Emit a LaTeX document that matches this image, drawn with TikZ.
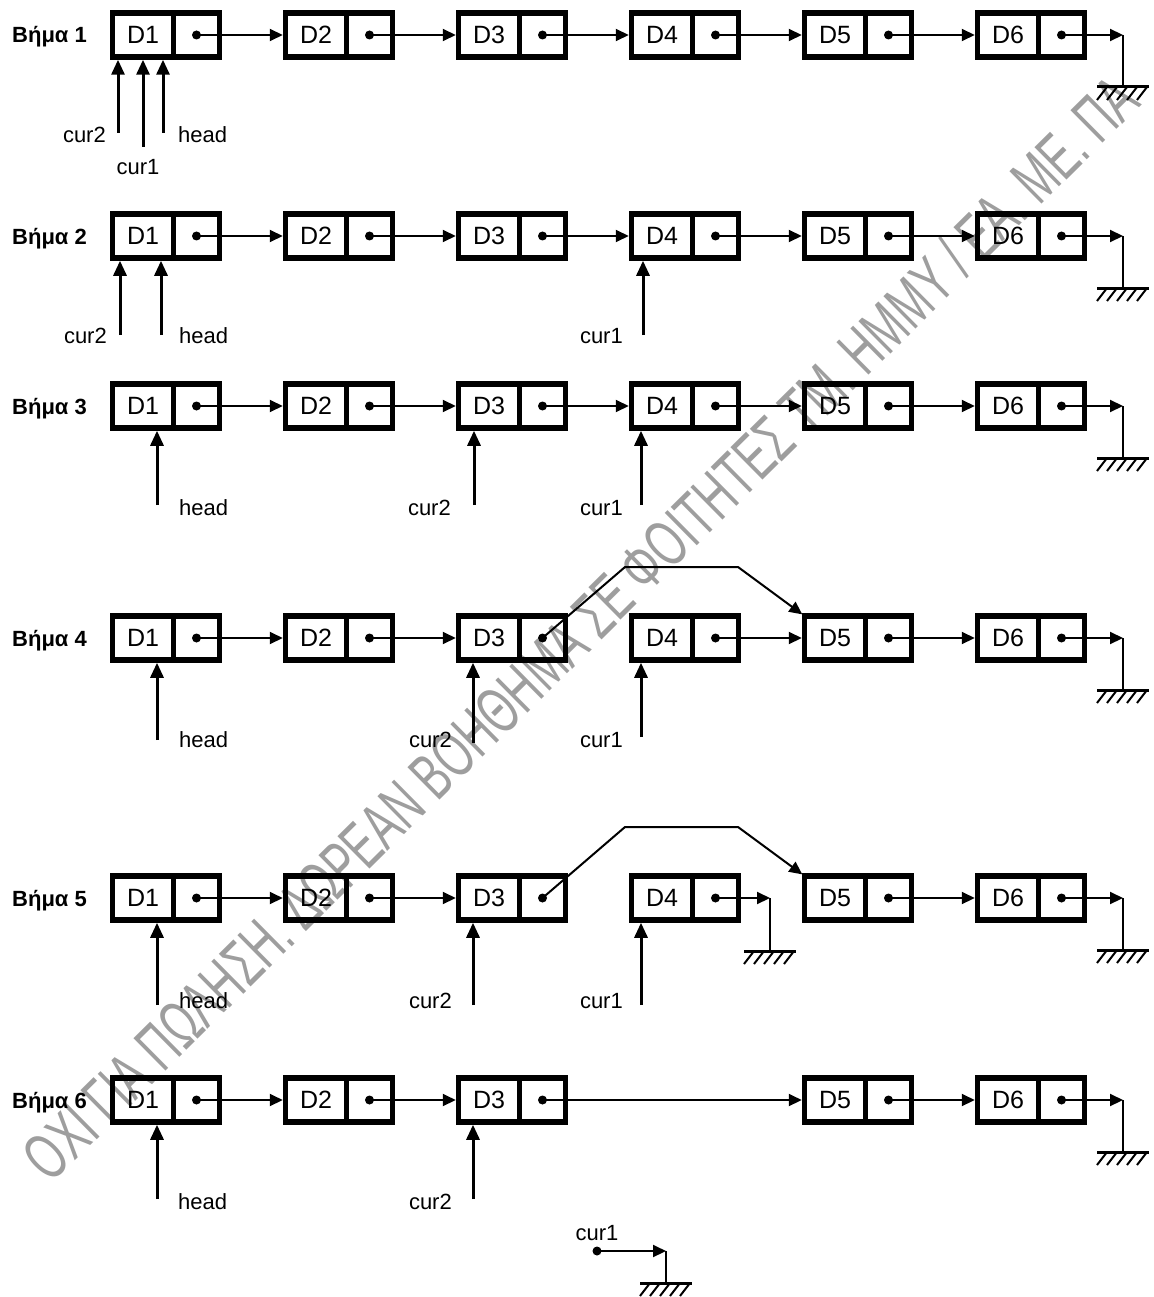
\documentclass[tikz,border=0pt]{standalone}
\usepackage{fontspec}
\setmainfont{Liberation Sans}
\usetikzlibrary{arrows.meta}
\newcommand\mkrow[3]{%
  \node[steplbl] (s#1) at (12,#2+8) {Βήμα #1};
  \foreach \i in {#3}{%
    \node[dcell] (d#1\i) at ({143+173*(\i-1)},#2) {D\i};
    \node[pcell] (p#1\i) at (d#1\i.east) {};
    \fill (p#1\i.center) circle (4.5pt);
  }%
  \coordinate (t#1) at (1123,#2);
  \draw[tlink] (p#16.center) -- (t#1);
  \draw[gline] (t#1) -- ++(0,52) pic {ground};
}
\begin{document}
\begin{tikzpicture}[x=1pt,y=-1pt,
  dcell/.style={draw,line width=5.5pt,minimum width=61pt,minimum height=44pt,inner sep=0pt,outer sep=0pt,font=\fontsize{25}{25}\selectfont},
  pcell/.style={draw,line width=5.5pt,minimum width=46pt,minimum height=44pt,inner sep=0pt,outer sep=0pt,anchor=west},
  link/.style={line width=2pt,-{Triangle[length=13pt,width=12pt]},shorten >=2.75pt},
  tlink/.style={link,shorten >=0pt},
  ptr/.style={line width=3pt,-{Triangle[length=15pt,width=13pt]},shorten >=2.75pt},
  lbl/.style={font=\fontsize{22}{22}\selectfont,inner sep=0pt},
  steplbl/.style={font=\bfseries\fontsize{22}{22}\selectfont,inner sep=0pt,anchor=base west},
  gline/.style={line width=2.5pt},
  ground/.pic={
    \draw[line width=3pt] (-26,0) -- (26,0);
    \foreach \k in {-16,-6,4,14,24} \draw[line width=2pt] (\k,0) -- (\k-10,13);
  }
]
\useasboundingbox (0,0) rectangle (1153,1297);
\fill[white] (0,0) rectangle (1153,1297);

% watermark
\node[rotate=44.7, text=black!38, inner sep=0pt] (wm) at (580,628)
  {\resizebox{1535pt}{48pt}{ΟΧΙ ΓΙΑ ΠΩΛΗΣΗ. ΔΩΡΕΑΝ ΒΟΗΘΗΜΑ ΣΕ ΦΟΙΤΗΤΕΣ ΤΜ. ΗΜΜΥ / ΕΑ. ΜΕ. ΠΑ}};

% rows
\mkrow{1}{35}{1,...,6}
\mkrow{2}{236}{1,...,6}
\mkrow{3}{406}{1,...,6}
\mkrow{4}{638}{1,...,6}
\mkrow{5}{898}{1,...,6}
\mkrow{6}{1100}{1,2,3,5,6}

% links rows 1-3
\foreach \r in {1,2,3}{
  \foreach \i [evaluate=\i as \j using int(\i+1)] in {1,...,5}
    \draw[link] (p\r\i.center) -- (d\r\j.west);
}
% row 4
\draw[link] (p41.center) -- (d42.west);
\draw[link] (p42.center) -- (d43.west);
\draw[link] (p44.center) -- (d45.west);
\draw[link] (p45.center) -- (d46.west);
\draw[link] (p43.center) -- (625,567) -- (738,567) -- (d45.north west);
% row 5
\draw[link] (p51.center) -- (d52.west);
\draw[link] (p52.center) -- (d53.west);
\draw[link] (p55.center) -- (d56.west);
\draw[link] (p53.center) -- (625,827) -- (738,827) -- (d55.north west);
\coordinate (t54) at (770,898);
\draw[tlink] (p54.center) -- (t54);
\draw[gline] (t54) -- ++(0,53) pic {ground};
% row 6
\draw[link] (p61.center) -- (d62.west);
\draw[link] (p62.center) -- (d63.west);
\draw[link] (p63.center) -- (d65.west);
\draw[link] (p65.center) -- (d66.west);

% pointers row 1
\coordinate (a1) at (118,133); \draw[ptr] (a1) -- (a1 |- d11.south);
\coordinate (b1) at (143,147); \draw[ptr] (b1) -- (b1 |- d11.south);
\coordinate (h1) at (163,133); \draw[ptr] (h1) -- (h1 |- d11.south);
\node[lbl,anchor=base east] (la1) at (106,143) {cur2};
\node[lbl,anchor=base] (lb1) at (138,175) {cur1};
\node[lbl,anchor=base west] (lh1) at (178,143) {head};
% row 2
\coordinate (a2) at (120,335); \draw[ptr] (a2) -- (a2 |- d21.south);
\coordinate (h2) at (161,335); \draw[ptr] (h2) -- (h2 |- d21.south);
\coordinate (b2) at (643,335); \draw[ptr] (b2) -- (b2 |- d24.south);
\node[lbl,anchor=base east] (la2) at (107,343) {cur2};
\node[lbl,anchor=base west] (lh2) at (179,343) {head};
\node[lbl,anchor=base east] (lb2) at (623,343) {cur1};
% row 3
\coordinate (h3) at (157,505); \draw[ptr] (h3) -- (h3 |- d31.south);
\coordinate (a3) at (474,505); \draw[ptr] (a3) -- (a3 |- d33.south);
\coordinate (b3) at (641,505); \draw[ptr] (b3) -- (b3 |- d34.south);
\node[lbl,anchor=base west] (lh3) at (179,515) {head};
\node[lbl,anchor=base east] (la3) at (451,515) {cur2};
\node[lbl,anchor=base east] (lb3) at (623,515) {cur1};
% row 4
\coordinate (h4) at (157,740); \draw[ptr] (h4) -- (h4 |- d41.south);
\coordinate (a4) at (473,743); \draw[ptr] (a4) -- (a4 |- d43.south);
\coordinate (b4) at (641,737); \draw[ptr] (b4) -- (b4 |- d44.south);
\node[lbl,anchor=base west] (lh4) at (179,747) {head};
\node[lbl,anchor=base east] (la4) at (452,747) {cur2};
\node[lbl,anchor=base east] (lb4) at (623,747) {cur1};
% row 5
\coordinate (h5) at (157,1005); \draw[ptr] (h5) -- (h5 |- d51.south);
\coordinate (a5) at (473,1005); \draw[ptr] (a5) -- (a5 |- d53.south);
\coordinate (b5) at (641,1005); \draw[ptr] (b5) -- (b5 |- d54.south);
\node[lbl,anchor=base west] (lh5) at (179,1008) {head};
\node[lbl,anchor=base east] (la5) at (452,1008) {cur2};
\node[lbl,anchor=base east] (lb5) at (623,1008) {cur1};
% row 6
\coordinate (h6) at (157,1199); \draw[ptr] (h6) -- (h6 |- d61.south);
\coordinate (a6) at (473,1199); \draw[ptr] (a6) -- (a6 |- d63.south);
\node[lbl,anchor=base west] (lh6) at (178,1209) {head};
\node[lbl,anchor=base east] (la6) at (452,1209) {cur2};

% cur1 at bottom
\coordinate (c7) at (597,1251);
\fill (c7) circle (4.5pt);
\node[lbl,anchor=base] (lc7) at (597,1240) {cur1};
\coordinate (t7) at (666,1251);
\draw[tlink] (c7) -- (t7);
\draw[gline] (t7) -- ++(0,32) pic {ground};
\end{tikzpicture}
\end{document}
